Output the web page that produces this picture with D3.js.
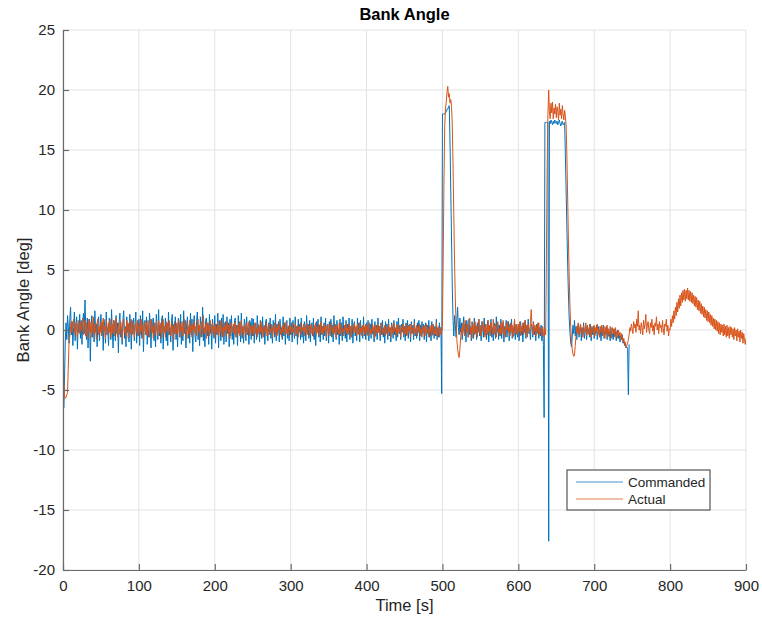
<!DOCTYPE html>
<html>
<head>
<meta charset="utf-8">
<script src="https://cdn.jsdelivr.net/npm/d3@7"></script>
<style>
  html, body { margin: 0; padding: 0; background: #fff; }
  svg { display: block; font-family: "Liberation Sans", Arial, Helvetica, sans-serif; }
</style>
</head>
<body>
<svg id="chart" width="762" height="621"></svg>
<script>
// Sample period of the logged signals, in seconds
const sampleStep = 1;

// Commanded bank angle [deg], one sample per second from t = 0 (25 s per row)
const commanded = [
  0, -6.5, -4.0, -1.0, 0.6, -0.8, 1.2, 0.3, -1.1, 0.9, 1.9, -0.4, 0.7, -1.3, 0.2, 1.5, -0.9, 0.4, 1.1, -1.6, 0.5, -0.2, 1.3, -0.7, 0.8,
  -1.2, 0.6, 1.4, -0.3, 2.5, 0.1, -0.8, 1.0, -1.5, 0.4, 0.9, -2.6, 0.3, 1.2, -0.6, 0.7, -1.0, 1.6, -0.2, 0.5, -1.4, 0.8, 1.1, -0.9, 0.2,
  1.3, -0.5, 0.6, -1.7, 0.9, 0.3, -1.1, 1.5, -0.4, 0.2, -1.3, 1.0, 0.5, -0.8, 1.7, -0.1, -1.5, 0.8, 0.4, -0.9, 1.2, -0.3, 0.6, -1.9, 0.7,
  1.4, -0.6, 0.1, -1.2, 0.9, 1.6, -0.7, 0.3, -1.4, 1.1, -0.2, 0.5, -1.0, 1.3, 0.4, -1.6, 0.8, -0.3, 1.0, -0.9, 0.6, 1.5, -1.1, 0.2, -0.5,
  0.9, -1.3, 1.2, 0.1, -0.7, 1.6, -1.8, 0.4, 0.8, -0.4, 1.1, -1.2, 0.3, -0.6, 1.4, 0.5, -1.5, 0.9, -0.2, 1.0, -0.9, 0.6, -1.4, 1.3, 0.2,
  -0.8, 1.7, -0.5, 0.4, -1.1, 0.9, 1.2, -1.6, 0.3, -0.2, 1.0, -0.9, 0.6, -1.3, 1.5, -0.4, 0.2, -1.0, 0.8, 1.3, -1.7, 0.5, -0.3, 1.1, -0.8,
  0.4, -1.4, 1.0, 0.7, -0.6, 1.3, -1.2, 0.2, -0.9, 1.6, -0.3, 0.8, -1.5, 0.5, 1.1, -0.7, 0.3, -1.1, 1.4, -0.4, 0.9, -1.8, 0.6, 1.2, -0.5,
  -1.0, 0.7, 1.5, -0.8, 0.3, -1.3, 1.1, 0.4, -0.6, 1.9, -0.9, 0.2, -1.4, 0.8, 1.0, -0.5, 0.6, -1.2, 1.3, -0.3, 0.5, -1.6, 0.9, 0.1, -0.7,
  1.2, -1.1, 0.5, -0.4, 1.4, -1.5, 0.8, 0.2, -0.9, 1.0, -0.6, 1.3, -1.2, 0.4, 0.7, -1.0, 1.1, -0.3, 0.6, -1.4, 0.9, -0.5, 1.2, -0.8, 0.3,
  -1.2, 0.8, 1.0, -0.6, 0.4, -1.3, 1.2, -0.2, 0.7, -1.0, 1.4, -0.7, 0.3, -1.1, 0.9, 0.5, -0.9, 1.1, -0.4, 0.2, -1.2, 0.8, 0.6, -0.8, 1.0,
  -0.5, 0.9, -1.1, 0.3, 0.6, -0.8, 1.2, -0.3, 0.4, -1.0, 0.8, 0.1, -0.7, 1.1, -0.5, 0.3, -1.2, 0.7, 0.9, -0.4, -0.9, 0.6, -0.2, 1.0, -0.7,
  0.4, -1.1, 0.8, 0.2, -0.6, 1.3, -0.9, 0.5, -0.3, 0.7, -1.0, 0.9, -0.4, 0.2, -0.8, 1.1, -0.5, 0.6, -1.2, 0.4, 0.8, -0.7, 0.3, -0.9, 1.0,
  -0.4, 0.6, -1.0, 0.8, 0.1, -0.7, 1.1, -0.5, 0.3, -1.2, 0.9, -0.2, 0.5, -0.8, 1.0, -0.6, 0.2, -1.1, 0.7, 0.4, -0.9, 1.2, -0.3, 0.5, -0.7,
  0.8, -1.0, 0.3, 0.6, -0.5, 1.0, -0.8, 0.2, -1.3, 0.7, -0.2, 0.9, -0.6, 0.4, -1.0, 1.1, -0.4, 0.3, -0.8, 0.6, -0.5, 1.0, -0.9, 0.2, 0.5,
  -1.1, 0.7, -0.3, 0.9, -0.6, 0.4, -1.0, 1.2, -0.2, 0.5, -0.8, 0.8, -0.4, 0.1, -1.2, 0.9, -0.5, 0.6, -0.9, 1.1, -0.3, 0.4, -0.7, 0.8, -1.0,
  0.5, -0.2, 1.0, -0.8, 0.3, -0.6, 0.9, -1.1, 0.4, 0.7, -0.5, 0.2, -0.9, 1.0, -0.3, 0.6, -1.0, 0.8, -0.4, 0.3, -0.7, 1.1, -0.5, 0.2, -0.8,
  0.6, -0.4, 0.8, -0.9, 0.2, 0.5, -0.7, 0.9, -0.3, 0.1, -1.0, 0.7, -0.5, 0.4, -0.8, 1.0, -0.2, 0.3, -0.9, 0.6, -0.4, 0.8, -0.6, 0.2, -1.1,
  0.7, -0.3, 0.5, -0.8, 0.9, -0.5, 0.2, -1.0, 0.6, 0.3, -0.7, 0.8, -0.4, 0.1, -0.9, 0.7, -0.6, 1.0, -0.3, 0.4, -0.8, 0.5, -0.2, 0.9, -0.6,
  0.3, -0.9, 0.6, -0.4, 0.8, -0.7, 0.2, 0.5, -1.0, 0.7, -0.3, 0.4, -0.8, 0.9, -0.5, 0.1, -0.7, 0.6, -0.2, 0.8, -0.9, 0.4, -0.5, 0.7, -0.3,
  0.5, -0.8, 0.2, 0.6, -1.0, 0.4, -0.3, 0.8, -0.6, 0.1, -0.9, 0.7, -0.4, 0.5, -0.7, 0.3, -0.5, 0.9, -0.8, 0.2, -0.6, 0.6, -0.3, 0.2, -5.3,
  18.0, 18.0, 18.0, 18.0, 18.1, 18.2, 18.4, 18.4, 18.6, 18.7, 15.5, 11.5, 7.5, 3.5, 0.8, -0.5, 1.2, 0.4, -0.6, 0.9, 1.9, 0.2, -0.4, 1.0, -0.2,
  0.6, -0.8, 0.3, 1.1, -0.3, 0.5, -1.0, 0.8, 0.2, -0.6, 0.9, -0.4, 0.3, -0.9, 0.7, 0.1, -0.7, 1.0, -0.3, 0.4, -0.8, 0.6, -0.2, 0.9, -0.5,
  0.3, -0.9, 0.7, 0.1, -0.6, 1.0, -0.4, 0.5, -0.8, 0.2, 0.8, -1.0, 0.4, -0.3, 0.9, -0.6, 0.2, -0.9, 0.6, 0.3, -0.7, 1.1, -0.2, 0.5, -0.8,
  0.4, -0.5, 0.9, -0.7, 0.1, 0.6, -1.0, 0.3, -0.4, 0.8, -0.6, 0.2, 0.7, -0.9, 0.5, -0.3, 0.9, -0.7, 0.2, -0.5, 0.6, -0.8, 0.4, 0.1, -0.6,
  0.5, -0.9, 0.3, 0.7, -0.4, 0.2, -1.0, 0.6, -0.2, 0.8, -0.7, 0.4, -0.5, 0.9, -0.3, 0.1, -0.8, 0.5, 0.3, -0.6, 0.7, -0.4, 0.2, -0.9, 0.5,
  -0.3, 0.6, -0.7, 0.2, -0.5, 0.4, -0.9, 0.1, -1.2, -7.3, 17.3, 17.3, 17.3, 17.3, 17.3, -17.6, 17.4, 17.2, 17.5, 17.3, 17.1, 17.4, 17.2, 17.5, 17.3,
  17.2, 17.4, 17.1, 17.3, 17.5, 17.2, 17.0, 17.3, 17.4, 17.1, 17.2, 17.3, 14.5, 11.5, 8.5, 5.5, 3.0, 1.0, -0.2, -1.0, -1.4, -0.6, 0.4, -0.3, 0.8,
  -0.5, 0.3, -0.8, 0.1, 0.5, -0.6, -0.1, 0.4, -0.9, 0.2, -0.4, 0.6, -0.7, -0.2, 0.3, -0.8, 0.4, -0.3, 0.1, -0.6, 0.5, -0.9, 0.2, -0.4, 0.3,
  -0.7, 0.1, -0.3, 0.4, -0.8, -0.2, 0.3, -0.6, 0.0, -0.9, 0.2, -0.5, 0.4, -0.7, -0.1, -0.4, 0.3, -0.8, 0.1, -0.5, -0.2, -0.9, 0.2, -0.6, -0.3,
  -0.8, 0.1, -0.5, -0.2, -0.9, -0.4, 0.0, -0.7, -0.3, -1.0, -0.5, -0.8, -0.4, -1.1, -0.9, -1.3, -1.1, -1.5, -1.4, -1.6, -5.4, -1.2
];

// Measured bank angle [deg], one sample per second from t = 0 (25 s per row)
const actual = [
  0, -4.5, -5.5, -5.7, -5.6, -5.4, -5.2, -3.0, -1.0, -0.5, 0.3, 0.7, -0.2, 0.5, 0.9, 0.1, -0.4, 0.6, 0.3, -0.6, 0.8, 0.2, -0.3, 0.7, -0.1,
  0.5, 1.0, -0.4, 0.3, 0.8, -0.5, 0.6, 0.1, -0.7, 0.9, 0.4, -0.2, 0.7, -0.6, 0.2, 1.1, -0.3, 0.5, 0.0, -0.8, 0.6, 0.9, -0.4, 0.3, -0.2,
  0.7, -0.5, 0.4, 1.0, -0.1, 0.3, -0.7, 0.8, 0.2, -0.4, 0.6, -0.2, 0.9, -0.6, 0.1, 0.5, -0.3, 0.8, -0.5, 0.4, 1.0, -0.1, -0.6, 0.6, 0.2,
  -0.4, 0.7, 0.3, -0.8, 0.5, 0.9, -0.2, 0.1, -0.5, 0.8, 0.4, -0.7, 0.6, 0.0, -0.3, 0.9, -0.4, 0.3, 0.7, -0.6, 0.2, 0.5, -0.2, 0.8, -0.5,
  0.3, 0.6, -0.4, 0.9, -0.1, 0.4, -0.8, 0.7, 0.2, -0.3, 0.6, -0.5, 0.8, 0.1, -0.6, 0.5, 0.9, -0.2, 0.3, -0.7, 0.6, 0.0, -0.4, 0.7, 0.2,
  -0.5, 0.8, 0.1, -0.3, 0.6, -0.7, 0.4, 0.9, -0.2, 0.3, -0.6, 0.7, -0.1, 0.5, -0.4, 0.8, 0.2, -0.5, 0.6, -0.2, 0.4, -0.8, 0.7, 0.0, -0.3,
  0.6, -0.4, 0.8, 0.2, -0.6, 0.5, -0.1, 0.7, -0.5, 0.3, 0.9, -0.3, 0.1, -0.7, 0.6, 0.2, -0.4, 0.8, -0.2, 0.4, -0.6, 0.5, 0.0, 0.7, -0.3,
  0.3, -0.5, 0.6, 0.9, -0.2, 0.4, -0.6, 0.2, 0.7, -0.4, 1.2, 0.1, -0.3, 0.5, -0.7, 0.6, -0.1, 0.4, -0.5, 0.8, 0.2, -0.4, 0.6, -0.2, 0.3,
  -0.6, 0.5, 0.1, -0.3, 0.7, -0.5, 0.4, 0.0, 0.8, -0.4, 0.2, -0.6, 0.6, -0.1, 0.4, -0.5, 0.7, 0.2, -0.3, 0.5, -0.7, 0.3, 0.6, -0.2, 0.1,
  0.5, -0.4, 0.7, -0.6, 0.2, 0.4, -0.3, 0.6, -0.5, 0.1, 0.8, -0.2, 0.3, -0.6, 0.5, 0.0, -0.4, 0.6, -0.3, 0.2, 0.7, -0.5, 0.1, 0.4, -0.3,
  0.4, -0.5, 0.2, 0.6, -0.3, 0.1, -0.6, 0.5, -0.2, 0.3, -0.4, 0.7, -0.1, 0.2, -0.6, 0.4, 0.0, -0.3, 0.6, -0.5, 0.2, 0.5, -0.4, 0.1, -0.2,
  0.5, -0.6, 0.3, -0.1, 0.6, -0.4, 0.2, -0.5, 0.4, 0.0, 0.6, -0.3, 0.1, -0.6, 0.4, -0.2, 0.5, -0.4, 0.2, 0.7, -0.3, 0.1, -0.5, 0.4, -0.1,
  0.3, -0.4, 0.6, -0.2, 0.1, -0.5, 0.5, 0.2, -0.3, 0.4, -0.6, 0.3, 0.0, 0.6, -0.4, 0.2, -0.1, 0.5, -0.5, 0.3, -0.2, 0.6, -0.4, 0.1, 0.4,
  -0.5, 0.2, 0.5, -0.3, 0.1, -0.6, 0.4, -0.1, 0.6, -0.4, 0.3, -0.2, 0.5, -0.5, 0.0, 0.7, -0.3, 0.2, -0.4, 0.5, -0.1, 0.3, -0.6, 0.4, 0.1,
  -0.3, 0.5, -0.5, 0.2, 0.6, -0.2, 0.3, -0.4, 0.1, 0.5, -0.6, 0.4, 0.0, -0.3, 0.6, -0.4, 0.2, 0.5, -0.2, 0.1, -0.5, 0.4, -0.1, 0.6, -0.3,
  0.2, -0.4, 0.5, -0.1, 0.3, -0.6, 0.4, 0.1, -0.3, 0.6, -0.2, 0.3, -0.5, 0.5, 0.0, -0.4, 0.6, -0.2, 0.2, -0.5, 0.4, -0.1, 0.3, -0.4, 0.5,
  -0.2, 0.4, -0.5, 0.2, 0.6, -0.3, 0.1, -0.4, 0.5, -0.1, 0.3, -0.6, 0.4, 0.0, -0.3, 0.5, -0.2, 0.3, -0.5, 0.2, 0.6, -0.4, 0.1, -0.2, 0.4,
  -0.5, 0.3, 0.1, -0.4, 0.5, -0.2, 0.2, -0.6, 0.4, 0.0, -0.3, 0.6, -0.1, 0.2, -0.5, 0.4, -0.3, 0.5, -0.2, 0.1, -0.6, 0.3, 0.0, 0.5, -0.4,
  0.2, -0.3, 0.5, -0.5, 0.1, 0.4, -0.2, 0.3, -0.6, 0.5, -0.1, 0.2, -0.4, 0.6, -0.3, 0.0, 0.4, -0.5, 0.3, -0.2, 0.5, -0.4, 0.1, -0.6, 0.3,
  -0.1, 0.4, -0.5, 0.2, 0.5, -0.3, 0.1, -0.6, 0.3, -0.2, 0.4, -0.5, 0.2, 0.5, -0.4, 0.1, -0.3, 0.6, -0.5, 0.0, 0.3, -0.6, 0.2, -0.4, -0.2,
  0.3, 6.0, 12.5, 17.0, 18.4, 19.0, 19.8, 20.3, 19.4, 19.7, 18.9, 19.2, 18.6, 17.0, 13.5, 9.5, 5.5, 2.5, 0.5, -0.8, -1.6, -2.1, -2.3, -1.6, -0.6,
  0.2, -0.4, 0.6, 0.0, -0.5, 0.8, 0.3, -0.2, 0.5, -0.6, 0.4, 1.0, -0.3, 0.2, -0.7, 0.6, 0.1, -0.4, 0.7, -0.2, 0.3, -0.6, 0.5, 0.9, -0.3,
  0.4, -0.5, 0.2, 0.7, -0.1, 0.3, -0.6, 0.5, 0.1, -0.4, 0.8, -0.2, 0.4, -0.5, 0.6, 0.0, -0.3, 0.9, -0.4, 0.2, 0.5, -0.6, 0.3, 0.7, -0.2,
  0.1, -0.5, 0.6, -0.3, 0.4, 0.8, -0.4, 0.2, -0.6, 0.5, 0.0, 0.7, -0.2, 0.3, -0.5, 0.6, -0.1, 0.4, -0.6, 0.2, 0.9, -0.3, 0.5, -0.4, 0.1,
  0.5, -0.2, 0.7, -0.5, 0.3, -0.1, 0.6, -0.4, 0.2, 0.8, -0.3, 0.4, -0.6, 0.5, 0.1, -0.2, 0.7, 1.7, 0.3, -0.4, 0.6, -0.1, 0.4, -0.5, 0.2,
  0.5, -0.3, 0.6, -0.4, 0.2, 0.0, -0.5, 0.3, -0.2, -0.6, 0.1, -0.4, 6.0, 13.5, 18.0, 20.0, 18.2, 17.6, 18.9, 18.1, 19.0, 17.6, 18.5, 18.0, 18.8,
  17.7, 18.6, 18.2, 17.5, 18.9, 17.9, 18.4, 17.6, 18.7, 18.0, 17.5, 18.3, 17.8, 17.0, 14.5, 11.0, 7.5, 4.5, 2.0, 0.3, -0.9, -1.6, -2.0, -2.2, -2.1,
  -1.3, -0.5, 0.3, -0.2, 0.6, -0.4, 0.2, 0.5, -0.3, 0.1, -0.6, 0.4, 0.0, -0.2, 0.6, -0.5, 0.3, 0.1, -0.4, 0.5, -0.1, -0.6, 0.3, 0.0, -0.3,
  0.4, -0.5, 0.2, -0.1, 0.5, -0.4, 0.1, -0.6, 0.3, -0.2, 0.4, -0.5, 0.0, 0.3, -0.7, 0.2, -0.3, 0.4, -0.6, 0.1, -0.4, 0.3, -0.2, -0.7, 0.2,
  -0.3, 0.1, -0.6, 0.2, -0.4, -0.1, -0.7, 0.0, -0.5, -0.2, -0.8, -0.3, -0.6, -1.0, -0.7, -1.2, -1.0, -1.5, -1.3, -1.1, -0.8, -0.4, 0.2, -0.1, 0.5,
  0.1, -0.3, 0.7, 0.2, 0.5, -0.2, 0.9, 0.3, 1.6, 0.0, 0.4, -0.3, 0.6, 0.2, -0.4, 0.8, 0.1, 0.5, 1.3, -0.2, 0.4, 0.7, 0.0, -0.3, 0.6,
  0.2, 0.9, -0.1, 0.4, -0.4, 0.6, 0.3, 1.1, 0.0, 0.5, -0.3, 0.7, 0.2, 0.4, -0.2, 0.8, 0.1, -0.4, 0.5, 0.3, 0.9, -0.1, 0.4, -0.5, 0.1,
  0.0, 0.9, 0.3, 1.2, 0.6, 1.6, 0.9, 1.9, 1.2, 2.3, 1.5, 2.6, 1.8, 2.9, 2.0, 3.1, 2.3, 3.3, 2.5, 3.4, 2.4, 3.3, 2.6, 3.5, 2.5,
  3.3, 2.4, 3.2, 2.3, 3.1, 2.2, 2.9, 2.0, 2.8, 1.9, 2.7, 1.7, 2.5, 1.6, 2.4, 1.4, 2.2, 1.3, 2.0, 1.1, 1.9, 1.0, 1.7, 0.8, 1.6,
  0.7, 1.5, 0.6, 1.3, 0.4, 1.2, 0.3, 1.0, 0.1, 0.9, 0.0, 0.8, -0.1, 0.7, -0.3, 0.6, -0.4, 0.5, -0.2, 0.4, -0.5, 0.5, -0.4, 0.3, -0.6,
  0.4, -0.5, 0.2, -0.7, 0.3, -0.4, 0.2, -0.6, 0.1, -0.8, 0.2, -0.5, 0.0, -0.9, 0.1, -0.6, -0.1, -1.0, 0.0, -0.7, -0.2, -1.1, -0.3, -0.8, -1.2,
  -0.7
];

const xTicks = [0, 100, 200, 300, 400, 500, 600, 700, 800, 900];
const yTicks = [-20, -15, -10, -5, 0, 5, 10, 15, 20, 25];
const seriesNames = ["Commanded", "Actual"];
const seriesColors = ["#0072BD", "#D95319"];

const svg = d3.select("#chart");
const margin = { left: 63, right: 16, top: 30, bottom: 51 };
const W = 762, H = 621;
const x = d3.scaleLinear().domain([0, 900]).range([margin.left, W - margin.right]);
const y = d3.scaleLinear().domain([-20, 25]).range([H - margin.bottom, margin.top]);

const axisColor = "#6b6b6b";
const textColor = "#262626";

// grid
const grid = svg.append("g");
grid.selectAll("line.gx").data(xTicks).join("line")
  .attr("x1", d => x(d)).attr("x2", d => x(d))
  .attr("y1", y(-20)).attr("y2", y(25))
  .attr("stroke", "#e3e3e3").attr("stroke-width", 1);
grid.selectAll("line.gy").data(yTicks).join("line")
  .attr("x1", x(0)).attr("x2", x(900))
  .attr("y1", d => y(d)).attr("y2", d => y(d))
  .attr("stroke", "#e3e3e3").attr("stroke-width", 1);

// data lines, clipped to the plot area
svg.append("defs").append("clipPath").attr("id", "plot-clip")
  .append("rect").attr("x", x(0)).attr("y", y(25))
  .attr("width", x(900) - x(0)).attr("height", y(-20) - y(25));

const line = d3.line()
  .x((d, i) => x(i * sampleStep))
  .y(d => y(d));

const plot = svg.append("g").attr("clip-path", "url(#plot-clip)");
[commanded, actual].forEach((series, k) => {
  plot.append("path")
    .attr("d", line(series))
    .attr("fill", "none")
    .attr("stroke", seriesColors[k])
    .attr("stroke-width", 1)
    .attr("stroke-linejoin", "round");
});

// axes (ticks point inward, plain hyphen for negatives)
const fmt = d => String(d);
const xAxis = d3.axisBottom(x).tickValues(xTicks).tickFormat(fmt).tickSizeInner(-6).tickSizeOuter(0).tickPadding(10);
const yAxis = d3.axisLeft(y).tickValues(yTicks).tickFormat(fmt).tickSizeInner(-6).tickSizeOuter(0).tickPadding(8);

const gx = svg.append("g").attr("transform", `translate(0,${y(-20)})`).call(xAxis);
const gy = svg.append("g").attr("transform", `translate(${x(0)},0)`).call(yAxis);
[gx, gy].forEach(g => {
  g.select(".domain").attr("stroke", axisColor).attr("stroke-width", 1.2);
  g.selectAll(".tick line").attr("stroke", axisColor).attr("stroke-width", 1.2);
  g.selectAll(".tick text").attr("fill", textColor)
    .style("font-size", "15px").style("font-family", "'Liberation Sans', Arial, sans-serif");
});

// title and axis labels
svg.append("text").attr("x", (x(0) + x(900)) / 2).attr("y", 20)
  .attr("text-anchor", "middle").attr("fill", "#000")
  .style("font-size", "16.5px").style("font-weight", "bold")
  .text("Bank Angle");
svg.append("text").attr("x", (x(0) + x(900)) / 2).attr("y", 611)
  .attr("text-anchor", "middle").attr("fill", textColor)
  .style("font-size", "16.5px")
  .text("Time [s]");
svg.append("text")
  .attr("transform", `translate(29,${(y(-20) + y(25)) / 2}) rotate(-90)`)
  .attr("text-anchor", "middle").attr("fill", textColor)
  .style("font-size", "16.5px")
  .text("Bank Angle [deg]");

// legend
const legend = svg.append("g").attr("transform", "translate(567,470)");
legend.append("rect").attr("x", 0).attr("y", 0).attr("width", 143).attr("height", 40)
  .attr("fill", "#fff").attr("stroke", "#555").attr("stroke-width", 1.2);
seriesNames.forEach((name, k) => {
  const ly = 12 + k * 17;
  legend.append("line").attr("x1", 9).attr("x2", 56).attr("y1", ly).attr("y2", ly)
    .attr("stroke", seriesColors[k]).attr("stroke-width", 1.2).attr("stroke-opacity", 0.75);
  legend.append("text").attr("x", 61).attr("y", ly).attr("dy", "0.35em")
    .attr("fill", textColor).style("font-size", "13.5px").text(name);
});
</script>
</body>
</html>
